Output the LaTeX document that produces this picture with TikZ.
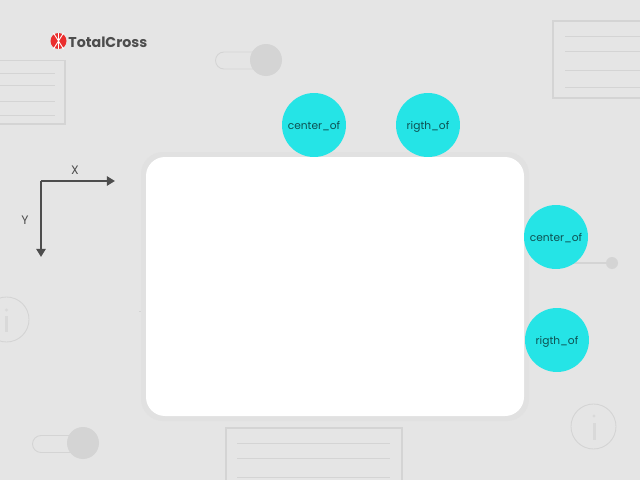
\documentclass[tikz,border=0pt]{standalone}
\usepackage{fontspec}
\setmainfont{Poppins}
\usetikzlibrary{arrows.meta}
\definecolor{backcolor}{HTML}{E5E5E5}
\definecolor{bandcolor}{HTML}{E1E1E1}
\definecolor{shapecolor}{HTML}{D4D4D4}
\definecolor{spotcolor}{HTML}{25E4E6}
\definecolor{inkcolor}{HTML}{4D4D4D}
\definecolor{logocolor}{HTML}{EA2E2E}
\tikzset{
	spot/.style={circle,fill=spotcolor,minimum size=1.28cm,inner sep=0pt,text height=5.6pt,text depth=1pt,text=black!65!spotcolor,font=\fontsize{6.05}{8}\selectfont},
	axislabel/.style={text=inkcolor,inner sep=0pt,font=\fontsize{7}{8}\selectfont},
	axisline/.style={inkcolor,line width=1.2pt,-{Triangle[length=4.6pt,width=5.2pt]}},
	ghost/.style={shapecolor,line width=0.5pt},
	ghostbox/.style={shapecolor,line width=1pt}
}
\begin{document}
\begin{tikzpicture}[x=0.02cm,y=-0.02cm]
			\pgfmathsetmacro{\knobr}{16}
			\pgfmathsetmacro{\infor}{22.5}
			\useasboundingbox (0,0) rectangle (640,480);
			\clip (0,0) rectangle (640,480);
			\fill[backcolor] (0,0) rectangle (640,480);
			\draw[ghostbox] (-10,60.5) rectangle (65,124);
			\foreach \y in {73,85.5,101,115} \draw[ghost] (-10,\y) -- (55,\y);
			\draw[ghostbox] (553,21) rectangle (660,98);
			\foreach \y in {36,51,70,87} \draw[ghost] (565,\y) -- (660,\y);
			\draw[ghostbox] (226,428) rectangle (402,500);
			\foreach \y in {443,458,477} \draw[ghost] (237,\y) -- (390,\y);
			\draw[ghost] (258,52) -- (224,52) arc[start angle=270,end angle=90,radius=8.5] -- (258,69);
			\fill[shapecolor] (266,60) circle[radius=\knobr];
			\draw[ghost] (75,435.5) -- (41,435.5) arc[start angle=270,end angle=90,radius=8.5] -- (75,452.5);
			\fill[shapecolor] (83,443) circle[radius=\knobr];
			\draw[ghost] (6.5,319.5) circle[radius=\infor];
			\fill[shapecolor!70!backcolor] (6.5,310) circle[radius=1.6];
			\fill[shapecolor!70!backcolor] (5,316) rectangle (8,332);
			\draw[ghost] (593.5,426.5) circle[radius=\infor];
			\fill[shapecolor!70!backcolor] (594,416) circle[radius=1.6];
			\fill[shapecolor!70!backcolor] (592.5,423) rectangle (595.5,440);
			\draw[ghost] (139,311) -- (146,311);
			\fill[bandcolor,rounded corners=0.44cm] (141,152) rectangle (529,421);
			\fill[white,rounded corners=0.38cm] (146,157) rectangle (524,416);
			\coordinate (knobtip) at (612,263);
			\node[spot] (centertop) at (314,125) {center\_of};
			\node[spot] (rigthtop) at (428,125) {rigth\_of};
			\draw[shapecolor,line width=0.6pt] (556,263) -- (knobtip);
			\fill[shapecolor] (knobtip) circle[radius=6];
			\node[spot] (centerside) at (556,237) {center\_of};
			\node[spot] (rigthside) at (557,340) {rigth\_of};
			\coordinate (origin) at (41,181);
			\coordinate (xtip) at (115,181);
			\coordinate (ytip) at (41,257);
			\draw[axisline] (origin) -- (xtip);
			\draw[axisline] (origin) -- (ytip);
			\node[axislabel] (xlabel) at (75,170) {X};
			\node[axislabel] (ylabel) at (25,220) {Y};
			\fill[logocolor] (58.5,41) circle[radius=8];
			\draw[white,line width=0.5pt] (53.5,33) -- (63.5,49) (63.5,33) -- (53.5,49) (58.5,33) -- (58.5,49);
			\node[anchor=west,inner sep=0pt,text=inkcolor,font=\fontsize{8.1}{9}\selectfont\bfseries] (logotext) at (68,42) {TotalCross};
		\end{tikzpicture}
\end{document}
